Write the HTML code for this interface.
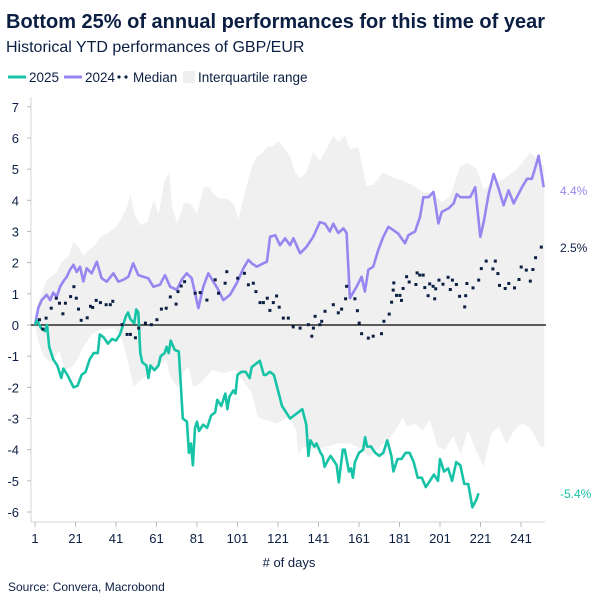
<!DOCTYPE html>
<html><head><meta charset="utf-8"><style>
html,body{margin:0;padding:0;background:#fff}
body{width:604px;height:604px;overflow:hidden;font-family:"Liberation Sans",Arial,sans-serif}
</style></head><body>
<svg id="s" width="604" height="604" xmlns="http://www.w3.org/2000/svg" font-family="Liberation Sans, Arial, sans-serif">
<text x="6" y="28" font-size="20" font-weight="bold" fill="#0b1f43">Bottom 25% of annual performances for this time of year</text>
<text x="6" y="52" font-size="16" fill="#0b1f43">Historical YTD performances of GBP/EUR</text>
<line x1="8" y1="77" x2="26" y2="77" stroke="#17c3a6" stroke-width="3"/>
<text x="29" y="82" font-size="13.5" fill="#0b1f43">2025</text>
<line x1="64" y1="77" x2="82" y2="77" stroke="#9886f0" stroke-width="3"/>
<text x="85" y="82" font-size="13.5" fill="#0b1f43">2024</text>
<circle cx="119" cy="77" r="1.6" fill="#0b1f43"/><circle cx="126" cy="77" r="1.6" fill="#0b1f43"/>
<text x="133" y="82" font-size="13.5" fill="#0b1f43">Median</text>
<rect x="183" y="71" width="12" height="12" fill="#efefef"/>
<text x="198" y="82" font-size="13.5" fill="#0b1f43">Interquartile range</text>
<g id="plot"></g>
<text x="289" y="567" font-size="13" fill="#0b1f43" text-anchor="middle"># of days</text>
<text x="8" y="591" font-size="12" fill="#0b1f43">Source: Convera, Macrobond</text>
<text x="560" y="195" font-size="12" fill="#9886f0">4.4%</text>
<text x="560" y="252" font-size="12" fill="#0b1f43">2.5%</text>
<text x="560" y="498" font-size="12" fill="#17c3a6">-5.4%</text>
</svg>
<script>
var X=function(d){return 35+2.025*(d-1)}, Y=function(v){return 325-31.17*v};
function pts(a){var s=[];for(var i=0;i<a.length;i+=2)s.push(X(a[i]).toFixed(1)+","+Y(a[i+1]).toFixed(1));return s.join(" ");}
var up=[1,0,2,0.6,6.8,1.45,11.7,1.7,14,2.0,17.5,2.2,20,2.67,22.5,2.5,25,2.2,27.5,2.4,30.8,2.56,33.3,2.83,36.6,2.94,39.9,3.1,42.4,3.26,44.8,3.57,46.5,3.8,48.1,4.2,49.8,3.63,53,3.2,56.4,3.3,59.6,4.0,62.1,3.57,64.6,4.53,67.1,4.9,68.7,3.8,71.2,3.26,74.5,3.9,77.8,3.9,81,3.57,84.3,4.42,86.8,4.42,89.2,4.2,92.5,4.05,95.8,4.05,99,3.9,101.5,3.4,104.8,4.3,108,5.06,110.5,5.4,113,5.5,115.5,5.7,118.8,5.75,121.2,5.9,123.7,5.7,127,5.4,129.5,4.9,132,4.7,135,4.9,138.4,5.54,141.7,5.27,145.8,5.75,148.3,6.07,150.8,5.86,154,6.07,156.5,5.64,160.6,5.7,164.7,4.46,168,4.5,173,4.9,178,4.73,183,4.62,187.9,4.46,192.8,4.25,197.8,4.25,201.9,3.93,206,4.14,211,5.1,214.2,5.2,219.2,5.0,222.5,4.36,227.5,4.57,232.4,4.68,239,5.0,245.6,5.54,250.6,5.2,252.5,5.1];
var lo=[1,0,2.5,-0.47,5.3,-1.0,9.1,-1.23,12.9,-0.8,15.7,-1.44,19.5,-1.33,22.3,-1.06,25,-0.7,29,-0.3,33,-0.15,40,-0.1,43,-0.3,45,-0.7,47,-1.2,49.7,-2.0,52.5,-1.8,60,-1.44,65.8,-1.1,67.7,-1.65,71.4,-2.0,75,-1.44,77,-1.33,79,-2.0,82.8,-1.87,88.4,-1.44,94,-1.55,99.7,-1.44,103.5,-1.76,108.2,-2.2,111,-2.95,114.9,-3.05,120.5,-3.16,126.2,-2.95,130,-3.38,130.9,-4.13,133.7,-3.9,139.4,-4.0,145,-3.9,150.7,-3.8,156.4,-3.8,162,-3.97,165.8,-4.24,171.5,-3.9,175.3,-3.7,179,-3.38,182.8,-2.95,184.7,-3.27,188.5,-3.16,192.3,-3.38,196,-3.05,199.8,-3.9,203.6,-4.0,207.4,-3.57,211.2,-4.13,214.9,-3.38,218.7,-4.0,222.5,-4.55,226.2,-3.49,230,-3.27,233.8,-3.81,237.6,-3.38,241.4,-3.16,245.2,-3.27,249,-3.7,250.9,-3.9,252.5,-3.9];
var lor=[];for(var i=lo.length-2;i>=0;i-=2)lor.push(lo[i],lo[i+1]);
var p25=[1,0,2,0.15,4,-0.1,6,-0.2,7,0,8,-0.7,10,-1.1,12,-1.3,14,-1.7,15,-1.4,17,-1.6,20,-2.0,22,-1.95,24,-1.6,26,-1.5,28,-1.1,30,-0.9,32,-0.9,33,-0.3,35,-0.4,37,-0.6,39,-0.45,41,-0.5,43,-0.3,45,0.1,46,0.3,47,0.4,48,0.2,50,0.05,51,0.5,52,0.4,53,-0.9,54,-1.2,56,-1.3,57,-1.7,58,-1.3,60,-1.45,62,-1.3,63,-1.0,65,-0.9,66,-0.7,67,-0.9,68,-0.5,70,-0.8,72,-0.85,74,-3.0,76,-3.1,77,-4.1,78,-3.8,79,-4.5,80,-3.3,81,-3.1,82,-3.4,84,-3.2,86,-3.3,88,-2.9,90,-2.8,91,-2.4,93,-2.6,95,-2.2,96,-2.7,97,-2.3,99,-2.1,100,-2.2,101,-1.6,103,-1.5,105,-1.5,107,-1.7,108,-1.35,110,-1.25,112,-1.15,114,-1.6,115,-1.6,117,-1.5,119,-1.6,121,-2.1,123,-2.6,125,-2.8,127,-3.0,129,-2.9,131,-2.8,133,-2.7,135,-3.2,136,-4.2,137,-3.7,139,-3.9,140,-3.8,142,-4.1,143,-4.2,144,-4.55,146,-4.3,147,-4.2,149,-4.4,150,-4.5,151,-5.05,153,-4.0,154,-4.0,156,-4.7,157,-4.6,158,-4.9,159,-4.4,161,-4.1,163,-4.0,164,-3.6,165,-3.9,167,-3.9,169,-4.1,171,-4.2,173,-4.1,175,-3.7,177,-4.2,178,-4.7,180,-4.3,182,-4.3,184,-4.1,186,-4.1,188,-4.4,190,-4.9,192,-4.9,194,-5.2,196,-5.0,198,-4.8,200,-5.0,201,-4.3,203,-4.7,205,-4.6,207,-5.0,209,-4.4,211,-4.5,213,-5.1,215,-5.1,217,-5.85,219,-5.6,220,-5.4];
var p24=[1,0,2.6,0.54,4.3,0.8,6.8,0.97,8.5,0.8,10,1.04,11.7,0.9,13.4,1.23,15,1.4,16.7,1.55,18.3,1.77,20,1.93,21.6,1.7,23.2,1.87,24.9,1.4,26.5,1.82,29,1.66,31.5,2.03,33.9,1.5,36.4,1.39,39.7,1.66,42.2,1.39,44.6,1.45,47.1,1.55,49.5,1.98,52,1.6,54.5,1.55,56.9,1.5,59.4,1.23,62.7,1.29,65.2,1.6,67.7,1.23,71,1.13,73.4,1.45,75.9,1.66,78.4,1.5,81.7,0.54,84.1,1.23,86.6,1.66,89.1,1.39,91.5,1.13,94,0.8,97.3,0.97,100.6,1.34,103.9,1.82,106.4,2.09,108,1.98,110.5,1.87,113.8,1.98,115.5,2.03,117.1,2.83,119.6,2.88,122,2.56,124.5,2.78,127,2.56,128.6,2.78,131.9,2.3,135,2.5,138.4,2.83,141.7,3.3,144.2,3.25,146.6,3.0,148.3,3.25,150.8,2.95,153.3,3.1,154.9,2.95,156.5,0.86,159.8,1.23,162.3,1.55,163.9,1.07,165.6,1.77,168,1.87,170.5,2.4,173,2.83,175.5,3.15,178,3.04,180.4,2.93,183.7,2.62,185.4,2.88,188.7,3.0,191.1,3.47,192.8,4.1,195.3,4.1,197.8,4.27,200.2,3.26,201.9,3.63,205.2,3.74,207.7,3.9,209.3,4.2,211,4.1,215.9,4.1,218.4,4.42,220.9,2.83,222.6,3.3,225,4.2,227.5,4.84,230,4.37,232.4,3.84,234.9,4.32,237.4,3.9,241.5,4.42,244,4.69,246.4,4.69,248.1,5.06,249.7,5.43,252.2,4.42];
var med=[3.2,0.17,4.9,-0.13,6.5,0.22,9,0.54,11.5,0.86,13.1,0.7,14.8,0.36,16,0.7,18.6,0.91,20.2,1.23,21.4,0.86,22.5,0.51,23.8,0.15,26.8,0.23,28.4,0.6,29.5,0.56,31.2,0.79,33.3,0.72,36.1,0.65,38.2,0.65,39.4,0.76,44,0.01,46.5,-0.3,48.1,-0.3,50.6,-0.41,52.2,-0.1,55.5,0.06,58.5,0.01,61.2,0.17,63.4,0.51,65.8,0.54,67.8,0.9,70.7,0.67,71.6,1.07,73.2,1.25,74.9,1.39,80.1,1.02,82.6,1.04,85.9,0.8,90,1.45,91.6,1.02,94.9,1.34,95.7,1.71,101.1,1.5,104.4,1.66,106.4,1.29,108.8,1.34,110.1,1.07,112.1,0.72,113.8,0.72,115.7,0.86,117,0.47,118.7,0.72,120.3,0.93,121.6,0.57,123.6,0.22,126.1,0.22,128.5,-0.06,131.9,-0.1,136,0.01,137.7,-0.36,138.5,-0.1,139.3,0.28,141.7,0.01,142.6,0.12,144.2,0.44,148.3,0.65,150.8,0.39,152.4,0.51,154.4,0.84,154.9,1.24,159,0.84,160.2,0.46,161.1,0.06,162.3,-0.28,165.6,-0.42,168,-0.36,172.1,-0.28,173.3,0.12,175.9,0.35,177.1,0.73,178.2,1.35,177.9,1.12,179.5,0.95,181.2,0.95,182,0.79,182.8,1.17,184.5,1.55,185.8,1.38,189.1,1.3,189.7,1.67,191,1.6,192.7,1.6,193.5,1.2,195.1,0.94,195.9,1.32,197.6,1.24,198.4,0.84,198.9,1.16,200.5,1.44,202.5,1.31,205,1.53,206.1,1.14,207.1,1.44,209.1,1.3,210.7,0.92,213.2,0.58,213.7,0.94,214.3,1.33,217.3,1.19,220.1,1.44,221.4,1.81,223.8,2.05,227.1,1.8,228.3,2.05,229.6,1.65,230.4,1.27,233.2,1.17,235,1.33,237.8,1.19,240,1.46,241.1,1.86,243.6,1.76,245.6,1.41,246.9,1.78,248.2,2.16,251,2.5];
var h='';
h+='<polygon points="'+pts(up)+' '+pts(lor)+'" fill="#f0f0f0"/>';
h+='<line x1="31" y1="97" x2="31" y2="522" stroke="#d4d4d4"/>';
h+='<line x1="31" y1="522" x2="545" y2="522" stroke="#d4d4d4"/>';
for(var v=-6;v<=7;v++){var y=Y(v);h+='<line x1="27" y1="'+y+'" x2="31" y2="'+y+'" stroke="#bbb"/>';h+='<text x="19" y="'+(y+5)+'" font-size="13" fill="#0b1f43" text-anchor="end">'+v+'</text>';}
for(var d=1;d<=241;d+=20){var x=X(d);h+='<line x1="'+x+'" y1="522" x2="'+x+'" y2="527" stroke="#bbb"/>';h+='<text x="'+x+'" y="543" font-size="13" fill="#0b1f43" text-anchor="middle">'+d+'</text>';}
h+='<line x1="31" y1="325" x2="546" y2="325" stroke="#000" stroke-width="1.2"/>';
h+='<polyline points="'+pts(p24)+'" fill="none" stroke="#9886f0" stroke-width="2.6" stroke-linejoin="round"/>';
h+='<polyline points="'+pts(p25)+'" fill="none" stroke="#17c3a6" stroke-width="2.6" stroke-linejoin="round"/>';
for(var i=0;i<med.length;i+=2)h+='<rect x="'+(X(med[i])-1.5).toFixed(1)+'" y="'+(Y(med[i+1])-1.5).toFixed(1)+'" width="3" height="3" fill="#0b1f43"/>';
document.getElementById('plot').innerHTML=h;
</script>
</body></html>
